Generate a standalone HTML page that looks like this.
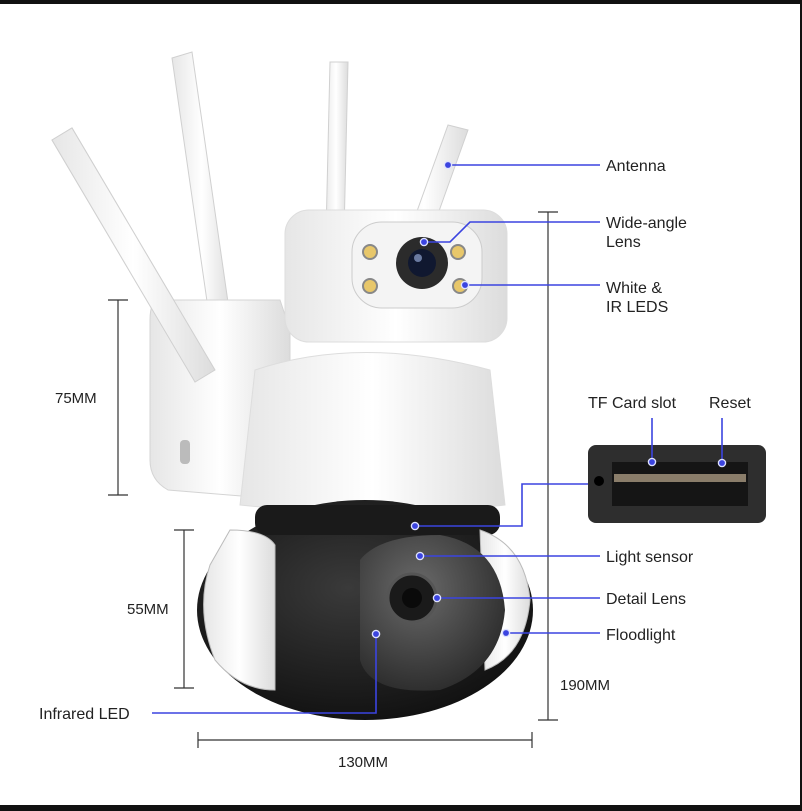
<!DOCTYPE html>
<html><head><style>
html,body{margin:0;padding:0;background:#fff}
svg{display:block}
text{font-family:"Liberation Sans",sans-serif;fill:#222}
</style></head><body>
<svg width="802" height="811" viewBox="0 0 802 811" xmlns="http://www.w3.org/2000/svg">
<defs>
<linearGradient id="wh" x1="0" x2="1"><stop offset="0" stop-color="#e6e6e6"/><stop offset=".5" stop-color="#fff"/><stop offset="1" stop-color="#dcdcdc"/></linearGradient>
<radialGradient id="bk" cx=".45" cy=".4" r=".7"><stop offset="0" stop-color="#3a3a3a"/><stop offset="1" stop-color="#0c0c0c"/></radialGradient>
<radialGradient id="fr" cx=".4" cy=".35" r=".7"><stop offset="0" stop-color="#6a6a6a"/><stop offset="1" stop-color="#2a2a2a"/></radialGradient>
<marker id="d" viewBox="0 0 10 10" refX="5" refY="5" markerWidth="9" markerHeight="9" markerUnits="userSpaceOnUse"><circle cx="5" cy="5" r="4" fill="#3b44e0" stroke="#dfe3ff" stroke-width="1.5"/></marker>
</defs>
<rect width="802" height="811" fill="#fff"/>
<rect x="0" y="0" width="802" height="4" fill="#111"/>
<rect x="0" y="805" width="802" height="6" fill="#111"/>
<rect x="800" y="0" width="2" height="811" fill="#111"/>

<g fill="url(#wh)" stroke="#d0d0d0">
<polygon points="52,140 72,128 215,370 195,382"/>
<polygon points="172,58 192,52 232,330 212,336"/>
<polygon points="330,62 348,62 342,320 324,320"/>
<polygon points="448,125 468,130 400,320 380,314"/>
</g>
<path d="M160,300 L280,300 L290,330 L290,500 L168,490 Q150,480 150,460 L150,320 Q150,300 160,300Z" fill="url(#wh)" stroke="#d4d4d4"/>
<polygon points="52,140 72,128 215,370 195,382" fill="url(#wh)" stroke="#d0d0d0"/>
<rect x="180" y="440" width="10" height="24" rx="4" fill="#bbb"/>
<rect x="285" y="210" width="222" height="132" rx="24" fill="url(#wh)" stroke="#ddd"/>
<rect x="352" y="222" width="130" height="86" rx="30" fill="#f4f4f4" stroke="#ccc"/>
<circle cx="422" cy="263" r="26" fill="#2b2b2b"/><circle cx="422" cy="263" r="14" fill="#101830"/><circle cx="418" cy="258" r="4" fill="#6a7aa0"/>
<g fill="#e8c76a" stroke="#888" stroke-width="2"><circle cx="370" cy="252" r="7"/><circle cx="370" cy="286" r="7"/><circle cx="458" cy="252" r="7"/><circle cx="460" cy="286" r="7"/></g>
<path d="M255,370 Q360,335 490,370 L505,505 Q380,520 240,505Z" fill="url(#wh)" stroke="#ddd"/>
<ellipse cx="365" cy="610" rx="168" ry="110" fill="url(#bk)"/>
<rect x="255" y="505" width="245" height="30" rx="12" fill="#1a1a1a"/>
<path d="M230,530 Q265,530 275,545 L275,690 Q240,690 215,660 Q195,610 210,565Z" fill="url(#wh)" stroke="#bbb"/>
<path d="M480,530 Q525,545 530,600 Q525,655 485,670 Z" fill="url(#wh)" stroke="#bbb"/>
<path d="M360,560 Q380,535 440,535 Q500,545 505,610 Q500,670 440,690 Q370,695 360,660 Z" fill="url(#fr)"/>
<circle cx="412" cy="598" r="24" fill="#1a1a1a" stroke="#555" stroke-width="3"/><circle cx="412" cy="598" r="10" fill="#0a0a0a"/>

<g stroke="#333" stroke-width="1.2" fill="none">
<path d="M118,300V495M108,300H128M108,495H128"/>
<path d="M184,530V688M174,530H194M174,688H194"/>
<path d="M548,212V720M538,212H558M538,720H558"/>
<path d="M198,732V748M532,732V748M198,740H532"/>
</g>
<text x="55" y="403" font-size="15">75MM</text>
<text x="127" y="614" font-size="15">55MM</text>
<text x="560" y="690" font-size="15">190MM</text>
<text x="338" y="767" font-size="15">130MM</text>

<rect x="588" y="445" width="178" height="78" rx="8" fill="#2e2e2e"/>
<rect x="612" y="462" width="136" height="44" fill="#151515"/>
<rect x="614" y="474" width="132" height="8" fill="#8a7d6a"/>
<circle cx="599" cy="481" r="5" fill="#000"/>

<g stroke="#3b44e0" stroke-width="1.6" fill="none">
<path d="M600,165H448" marker-end="url(#d)"/>
<path d="M600,222H470L450,242H424" marker-end="url(#d)"/>
<path d="M600,285H465" marker-end="url(#d)"/>
<path d="M652,418V462" marker-end="url(#d)"/>
<path d="M722,418V463" marker-end="url(#d)"/>
<path d="M588,484H522V526H415" marker-end="url(#d)"/>
<path d="M600,556H420" marker-end="url(#d)"/>
<path d="M600,598H437" marker-end="url(#d)"/>
<path d="M600,633H506" marker-end="url(#d)"/>
<path d="M152,713H376V634" marker-end="url(#d)"/>
</g>
<g font-size="16">
<text x="606" y="171">Antenna</text>
<text x="606" y="228">Wide-angle</text><text x="606" y="247">Lens</text>
<text x="606" y="293">White &amp;</text><text x="606" y="312">IR LEDS</text>
<text x="588" y="408">TF Card slot</text><text x="709" y="408">Reset</text>
<text x="606" y="562">Light sensor</text>
<text x="606" y="604">Detail Lens</text>
<text x="606" y="640">Floodlight</text>
<text x="39" y="719">Infrared LED</text>
</g>
</svg>
</body></html>
